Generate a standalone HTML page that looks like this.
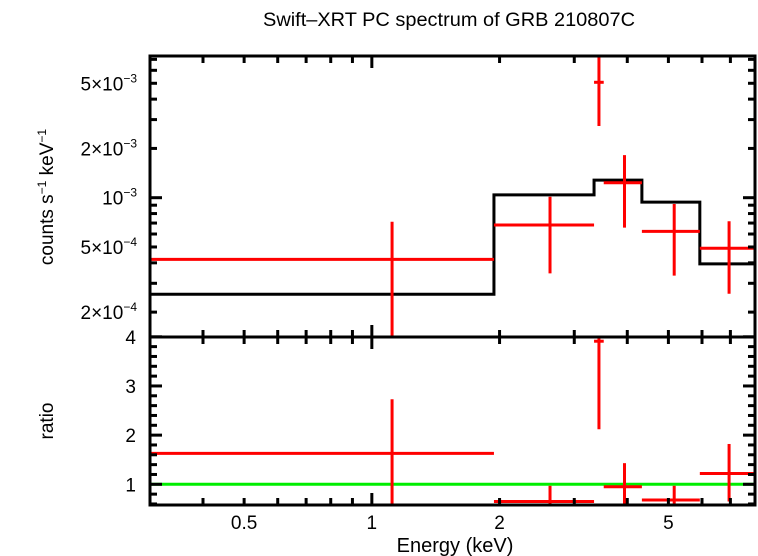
<!DOCTYPE html>
<html><head><meta charset="utf-8"><style>
body{margin:0;background:#fff}
svg{display:block;font-family:"Liberation Sans",sans-serif}
</style></head><body>
<svg id="c" width="758" height="556">
<defs>
<clipPath id="ct"><rect x="150" y="56" width="605" height="281"/></clipPath>
<clipPath id="cb"><rect x="150" y="337" width="605" height="168"/></clipPath>
</defs>
<text x="449" y="26" font-size="19" text-anchor="middle" textLength="372" lengthAdjust="spacingAndGlyphs">Swift–XRT PC spectrum of GRB 210807C</text>
<g id="topPanel" clip-path="url(#ct)"></g>
<g id="botPanel" clip-path="url(#cb)"></g>
<g id="axes"></g>
<text transform="translate(53,197) rotate(-90)" font-size="19" text-anchor="middle">counts s<tspan font-size="12" dy="-7">−1</tspan><tspan dy="7"> keV</tspan><tspan font-size="12" dy="-7">−1</tspan></text>
<text transform="translate(53,421) rotate(-90)" font-size="19" text-anchor="middle">ratio</text>
<text x="455" y="552" font-size="20" text-anchor="middle">Energy (keV)</text>
</svg>
<script>
const binLo=[0.3,1.94,3.34,3.52,4.33,5.93];
const binHi=[1.94,3.34,3.52,4.33,5.93,8];
const binC=[1.116,2.63,3.43,3.94,5.16,6.95];
const counts=[4.2e-4,6.81e-4,5.07e-3,1.235e-3,6.23e-4,4.91e-4];
const cntHi=[7.13e-4,1.014e-3,9e-3,1.82e-3,9.15e-4,7.18e-4];
const cntLo=[1e-4,3.45e-4,2.74e-3,6.56e-4,3.34e-4,2.59e-4];
const modelLo=[0.3,1.94,3.34,4.33,5.93];
const modelHi=[1.94,3.34,4.33,5.93,8];
const modelVal=[2.57e-4,1.04e-3,1.28e-3,9.4e-4,3.94e-4];
const ratio=[1.63,0.65,3.91,0.95,0.68,1.22];
const ratioHi=[2.73,0.97,4.02,1.43,0.97,1.82];
const ratioLo=[0.3,0.3,2.12,0.3,0.3,0.65];
const xTicks=[0.5,1,2,5];
const xTickLabels=["0.5","1","2","5"];
const yTicks=[2e-4,5e-4,1e-3,2e-3,5e-3];
const rTicks=[1,2,3,4];

const X0=150,X1=755,XMIN=0.3,XMAX=8;
const sx=e=>X0+(Math.log10(e)-Math.log10(XMIN))/(Math.log10(XMAX)-Math.log10(XMIN))*(X1-X0);
const sy=v=>197.7-(Math.log10(v)+3)*163.7;
const sr=r=>484.3-(r-1)*49.17;
const NS='http://www.w3.org/2000/svg';
function mk(p,t,a){const e=document.createElementNS(NS,t);for(const k in a)e.setAttribute(k,a[k]);p.appendChild(e);return e;}
const topG=document.getElementById('topPanel'),botG=document.getElementById('botPanel'),ax=document.getElementById('axes');
let d='';
modelVal.forEach((v,i)=>{d+=(i?'L':'M')+sx(modelLo[i])+','+sy(v)+'L'+sx(modelHi[i])+','+sy(v);});
const m=mk(topG,'path',{d:d,fill:'none',stroke:'#000','stroke-width':3});


counts.forEach((v,i)=>{
 const g=mk(topG,'g',{stroke:'#f00','stroke-width':3});
 
 
 mk(g,'line',{x1:sx(binLo[i]),x2:sx(binHi[i]),y1:sy(v),y2:sy(v)});
 mk(g,'line',{x1:sx(binC[i]),x2:sx(binC[i]),y1:sy(cntLo[i]),y2:sy(cntHi[i])});
});
const gl=mk(botG,'line',{x1:X0,x2:X1,y1:sr(1),y2:sr(1),stroke:'#0e0','stroke-width':3});


ratio.forEach((v,i)=>{
 const g=mk(botG,'g',{stroke:'#f00','stroke-width':3});
 
 
 mk(g,'line',{x1:sx(binLo[i]),x2:sx(binHi[i]),y1:sr(v),y2:sr(v)});
 mk(g,'line',{x1:sx(binC[i]),x2:sx(binC[i]),y1:sr(ratioLo[i]),y2:sr(ratioHi[i])});
});
mk(ax,'rect',{x:X0,y:56,width:X1-X0,height:281,fill:'none',stroke:'#000','stroke-width':3});
mk(ax,'rect',{x:X0,y:337,width:X1-X0,height:168,fill:'none',stroke:'#000','stroke-width':3});
const T=(x1,y1,x2,y2)=>mk(ax,'line',{x1:x1,y1:y1,x2:x2,y2:y2,stroke:'#000','stroke-width':3});
for(let dec=0.1;dec<=1.01;dec*=10)for(let k=1;k<10;k++){const e=k*dec;if(e<XMIN-1e-9||e>XMAX+1e-9)continue;const x=sx(e),L=(k==1)?12:7;
 T(x,56,x,56+L);T(x,337,x,337-L);T(x,337,x,337+L);T(x,505,x,505-L);}
xTicks.forEach((e,i)=>{const t=mk(ax,'text',{x:sx(e),y:529,'font-size':19,'text-anchor':'middle'});t.textContent=xTickLabels[i];
 
 });
for(let dec=1e-4;dec<=1e-3*1.01;dec*=10)for(let k=1;k<10;k++){const v=k*dec;const y=sy(v);if(y<56||y>337)continue;const L=(k==1)?12:7;T(X0,y,X0+L,y);T(X1,y,X1-L,y);}
yTicks.forEach(v=>{const y=sy(v);const e=Math.floor(Math.log10(v)+1e-9);const mant=Math.round(v/Math.pow(10,e));
 const t=mk(ax,'text',{x:137,y:y+7,'font-size':19,'text-anchor':'end'});
 t.innerHTML=(mant==1?'':mant+'×')+'10<tspan font-size="12" dy="-8">−'+(-e)+'</tspan>';
 
 });
for(let r=0.6;r<=4.01;r+=0.2){const y=sr(r);if(y>505)continue;const maj=Math.abs(r-Math.round(r))<0.01;const L=maj?12:7;T(X0,y,X0+L,y);T(X1,y,X1-L,y);}
rTicks.forEach(r=>{const t=mk(ax,'text',{x:136,y:sr(r)+7,'font-size':19,'text-anchor':'end'});t.textContent=r;
 
 });
</script>
</body></html>
